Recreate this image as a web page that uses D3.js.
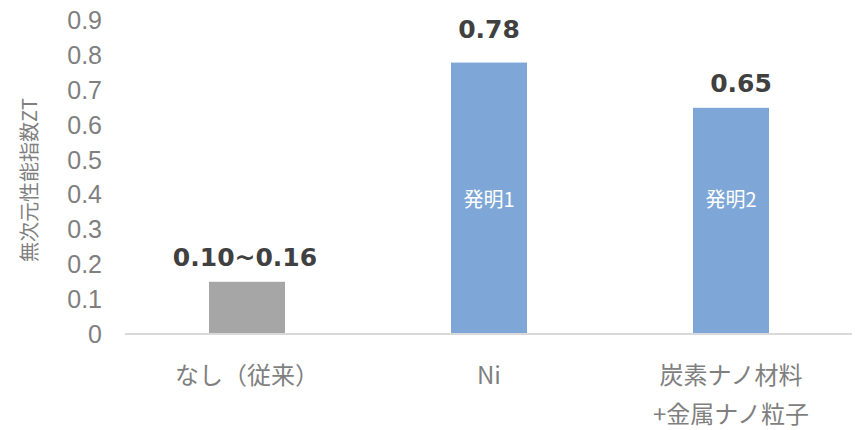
<!DOCTYPE html>
<html>
<head>
<meta charset="utf-8">
<script src="https://cdn.jsdelivr.net/npm/d3@7"></script>
<style>
    body { margin: 0; background: #fff; }
    svg { display: block; }
</style>
</head>
<body>
<div id="my_dataviz"></div>
<script>
// data
var categories = ["なし（従来）", "Ni", "炭素ナノ材料\n+金属ナノ粒子"];
var values = [0.15, 0.78, 0.65];
var valueLabels = ["0.10~0.16", "0.78", "0.65"];
var innerLabels = ["", "発明1", "発明2"];
var barColors = ["#a6a6a6", "#7ea7d8", "#7ea7d8"];
var yTicks = [0, 0.1, 0.2, 0.3, 0.4, 0.5, 0.6, 0.7, 0.8, 0.9];
var yTitle = "無次元性能指数ZT";

// small hand nudges for the value labels (as placed in the original)
var labelNudge = [[-2, 0], [0, -9], [10, 0]];

var width = 855, height = 430;
var jpFont = "'Noto Sans CJK JP', 'Noto Sans', sans-serif";

var svg = d3.select("#my_dataviz")
    .append("svg")
    .attr("width", width)
    .attr("height", height);

var y = d3.scaleLinear().domain([0, 0.9]).range([334, 20.8]);

var x = d3.scaleBand()
    .domain(categories)
    .range([126, 852])
    .paddingInner(0.686)
    .paddingOuter(0.343);

// y axis labels only
var yAxis = svg.append("g")
    .attr("transform", "translate(108,0)")
    .call(d3.axisLeft(y)
        .tickValues(yTicks)
        .tickSize(0)
        .tickPadding(6)
        .tickFormat(function (d) { return d === 0 ? "0" : d.toFixed(1); }));
yAxis.select(".domain").remove();
yAxis.selectAll("text")
    .attr("fill", "#7f7f7f")
    .style("font-family", "'Liberation Sans', Arial, sans-serif")
    .style("font-size", "25px");

// bars
svg.selectAll(".bar")
    .data(values)
    .enter()
    .append("rect")
    .attr("class", "bar")
    .attr("x", function (d, i) { return x(categories[i]); })
    .attr("width", x.bandwidth())
    .attr("y", function (d) { return y(d); })
    .attr("height", function (d) { return y(0) - y(d); })
    .attr("fill", function (d, i) { return barColors[i]; });

// baseline
svg.append("line")
    .attr("x1", 125)
    .attr("x2", 852)
    .attr("y1", y(0))
    .attr("y2", y(0))
    .attr("stroke", "#d9d9d9")
    .attr("stroke-width", 2);

// value labels
svg.selectAll(".v_label")
    .data(values)
    .enter()
    .append("text")
    .attr("class", "v_label")
    .attr("text-anchor", "middle")
    .attr("x", function (d, i) { return x(categories[i]) + x.bandwidth() / 2 + labelNudge[i][0]; })
    .attr("y", function (d, i) { return y(d) - 16 + labelNudge[i][1]; })
    .attr("fill", "#404040")
    .style("font-family", "'DejaVu Sans', Verdana, sans-serif")
    .style("font-weight", "bold")
    .style("font-size", "25px")
    .text(function (d, i) { return valueLabels[i]; });

// labels inside bars
svg.selectAll(".in_label")
    .data(values)
    .enter()
    .append("text")
    .attr("class", "in_label")
    .attr("text-anchor", "middle")
    .attr("dominant-baseline", "central")
    .attr("x", function (d, i) { return x(categories[i]) + x.bandwidth() / 2; })
    .attr("y", y(0.39))
    .attr("fill", "#ffffff")
    .style("font-family", jpFont)
    .style("font-size", "20px")
    .text(function (d, i) { return innerLabels[i]; });

// category labels (can be two lines)
categories.forEach(function (c) {
    var lines = c.split("\n");
    var t = svg.append("text")
        .attr("class", "x_label")
        .attr("text-anchor", "middle")
        .attr("fill", "#7f7f7f")
        .style("font-family", jpFont)
        .style("font-size", "24px");
    lines.forEach(function (line, j) {
        t.append("tspan")
            .attr("x", x(c) + x.bandwidth() / 2)
            .attr("y", 384 + j * 39)
            .text(line);
    });
});

// y title
svg.append("text")
    .attr("class", "y_label")
    .attr("text-anchor", "middle")
    .attr("dominant-baseline", "central")
    .attr("transform", "translate(28,180) rotate(-90)")
    .attr("fill", "#7f7f7f")
    .style("font-family", jpFont)
    .style("font-size", "20px")
    .text(yTitle);
</script>
</body>
</html>
